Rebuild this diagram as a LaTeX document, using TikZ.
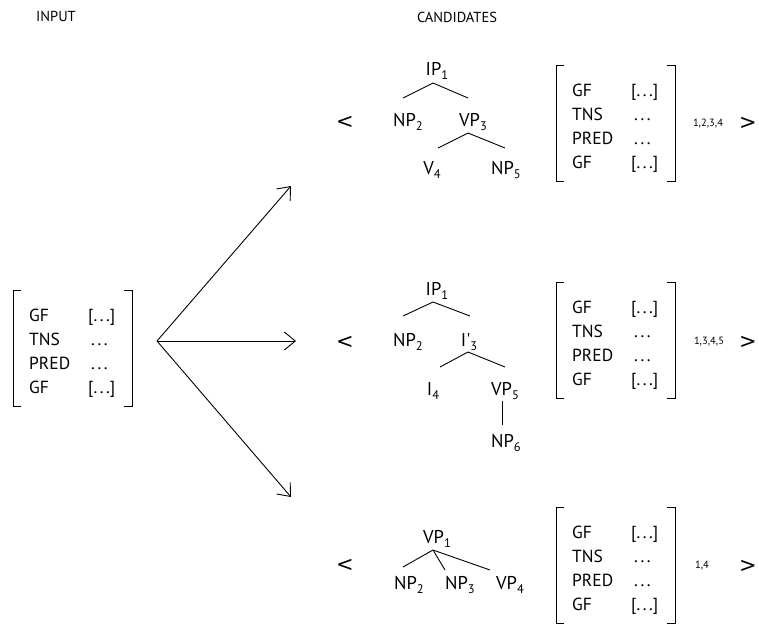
\documentclass[tikz,border=0pt]{standalone}
\usepackage{fontspec}
\setmainfont{PT Sans}
\newfontfamily\symf{DejaVu Sans}
\usetikzlibrary{arrows.meta,calc}
\newcommand\sbs[1]{\raisebox{-0.45ex}{\fontsize{12.5}{12.5}\selectfont #1}}
\newcommand\dts{.\kern2.6pt.\kern2.6pt.}
\newcommand\avmbody{\begin{tabular}[t]{@{}p{59pt}@{}l@{}}GF & [\dts]\\ TNS & \hspace{3pt}\dts\\ PRED & \hspace{3pt}\dts\\ GF & [\dts]\end{tabular}}
\newcommand\avmbrk[1]{%
  \draw[lw] ($(#1.base west)+(-8,-31)$) -- ($(#1.base west)+(-16,-31)$) -- ($(#1.base west)+(-16,85)$) -- ($(#1.base west)+(-8,85)$);
  \draw[lw] ($(#1.base west)+(95,-31)$) -- ($(#1.base west)+(103,-31)$) -- ($(#1.base west)+(103,85)$) -- ($(#1.base west)+(95,85)$);}
\begin{document}
\begin{tikzpicture}[x=1pt,y=-1pt,
  lw/.style={line width=0.9pt},
  tn/.style={inner sep=0pt,anchor=base,font=\fontsize{18.5}{20}\selectfont},
  avm/.style={inner sep=0pt,anchor=base west,font=\fontsize{17.5}{24}\selectfont},
  idx/.style={inner sep=0pt,font=\fontsize{10.5}{12}\selectfont},
  ang/.style={inner sep=0pt,font=\symf\fontsize{21}{24}\selectfont},
  hd/.style={inner sep=0pt,font=\fontsize{14.5}{16}\selectfont},
  arr/.style={lw,-{Straight Barb[length=11pt,width=18pt,line width=0.9pt]}}]
\useasboundingbox (0,0) rectangle (759,625);
% headings
\node[hd] (hin) at (56,16) {INPUT};
\node[hd] (hcand) at (457,17) {CANDIDATES};
% input AVM
\node[avm] (avm0) at (29,321) {\avmbody};
\avmbrk{avm0}
% arrows
\coordinate (fork) at (157,341);
\coordinate (t1) at (291,186);
\coordinate (t2) at (296,341);
\coordinate (t3) at (291,497);
\draw[arr] (fork) -- (t1);
\draw[arr] (fork) -- (t2);
\draw[arr] (fork) -- (t3);
% ---------- candidate 1
\node[ang] (l1) at (345,122) {<};
\node[tn] (a1) at (437,75) {IP\sbs{1}};
\node[tn] (a2) at (408,126) {NP\sbs{2}};
\node[tn] (a3) at (473,126) {VP\sbs{3}};
\node[tn] (a4) at (432,174) {V\sbs{4}};
\node[tn] (a5) at (506,174) {NP\sbs{5}};
\draw[lw] ($(a1.base)+(-4,8)$) -- ($(a2.base)+(-5,-28)$);
\draw[lw] ($(a1.base)+(-4,8)$) -- ($(a3.base)+(-5,-28)$);
\draw[lw] ($(a3.base)+(-5,7)$) -- ($(a4.base)+(6,-26)$);
\draw[lw] ($(a3.base)+(-5,7)$) -- ($(a5.base)+(-1,-26)$);
\node[avm] (avm1) at (572,96) {\avmbody};
\avmbrk{avm1}
\node[idx] (i1) at (708,124) {1,2,3,4};
\node[ang] (r1) at (748,123) {>};
% ---------- candidate 2
\node[ang] (l2) at (345,342) {<};
\node[tn] (b1) at (437,295) {IP\sbs{1}};
\node[tn] (b2) at (408,346) {NP\sbs{2}};
\node[tn] (b3) at (469,346) {I\textquotesingle\sbs{3}};
\node[tn] (b4) at (433,395) {I\sbs{4}};
\node[tn] (b5) at (505,395) {VP\sbs{5}};
\node[tn] (b6) at (506,447) {NP\sbs{6}};
\draw[lw] ($(b1.base)+(-4,7)$) -- ($(b2.base)+(-5,-30)$);
\draw[lw] ($(b1.base)+(-4,7)$) -- ($(b3.base)+(1,-30)$);
\draw[lw] ($(b3.base)+(-1,6)$) -- ($(b4.base)+(7,-28)$);
\draw[lw] ($(b3.base)+(-1,6)$) -- ($(b5.base)+(0,-28)$);
\draw[lw] ($(b5.base)+(-3,6)$) -- ($(b6.base)+(-4,-22)$);
\node[avm] (avm2) at (572,313) {\avmbody};
\avmbrk{avm2}
\node[idx] (i2) at (709,342) {1,3,4,5};
\node[ang] (r2) at (748,342) {>};
% ---------- candidate 3
\node[ang] (l3) at (345,565) {<};
\node[tn] (c1) at (437,543) {VP\sbs{1}};
\node[tn] (c2) at (409,589) {NP\sbs{2}};
\node[tn] (c3) at (460,589) {NP\sbs{3}};
\node[tn] (c4) at (510,589) {VP\sbs{4}};
\draw[lw] ($(c1.base)+(-4,7)$) -- ($(c2.base)+(-6,-22)$);
\draw[lw] ($(c1.base)+(-4,7)$) -- ($(c3.base)+(-15,-19)$);
\draw[lw] ($(c1.base)+(-4,7)$) -- ($(c4.base)+(-20,-19)$);
\node[avm] (avm3) at (572,538) {\avmbody};
\avmbrk{avm3}
\node[idx] (i3) at (702,566) {1,4};
\node[ang] (r3) at (748,566) {>};
\end{tikzpicture}
\end{document}
